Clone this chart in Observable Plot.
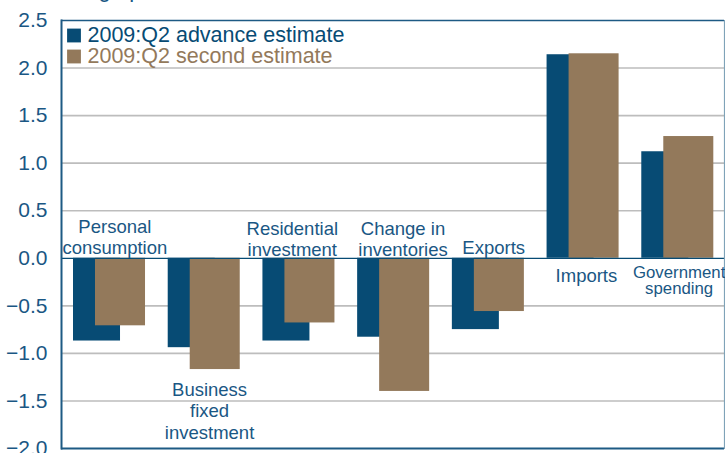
<!DOCTYPE html>
<html>
<head>
<meta charset="utf-8">
<script src="https://cdn.jsdelivr.net/npm/d3@7"></script>
<script src="https://cdn.jsdelivr.net/npm/@observablehq/plot@0.6"></script>
<style>
  html, body { margin: 0; padding: 0; background: #fff; }
  #chart { width: 725px; height: 453px; overflow: hidden; }
</style>
</head>
<body>
<div id="chart"></div>
<script>
// ---- data ----
const categories = ["Personal consumption", "Business fixed investment", "Residential investment",
  "Change in inventories", "Exports", "Imports", "Government spending"];
const labelLines = ["Personal\nconsumption", "Business\nfixed\ninvestment", "Residential\ninvestment",
  "Change in\ninventories", "Exports", "Imports", "Government\nspending"];
const advanceEstimate = [-0.87, -0.94, -0.87, -0.83, -0.75, 2.14, 1.12];
const secondEstimate  = [-0.71, -1.17, -0.68, -1.40, -0.56, 2.15, 1.28];
const labelPlacement = ["above", "belowBar", "above", "above", "above", "below", "below"];
const seriesNames = ["2009:Q2 advance estimate", "2009:Q2 second estimate"];
const yTicks = [-2.0, -1.5, -1.0, -0.5, 0.0, 0.5, 1.0, 1.5, 2.0, 2.5];
const titleText = "Percentage points";

// ---- styles ----
const BLUE = "#074b74";
const BROWN = "#93795b";
const TEXT_BLUE = "#1a5784";
const FONT = "Liberation Sans, Arial, sans-serif";

const advRows = categories.map((c, i) => ({cat: c, v: advanceEstimate[i]}));
const secRows = categories.map((c, i) => ({cat: c, v: secondEstimate[i]}));

const labelRows = categories.map((c, i) => {
  const p = labelPlacement[i];
  const y = p === "belowBar" ? Math.min(advanceEstimate[i], secondEstimate[i]) : 0;
  return {cat: c, text: labelLines[i], y, place: p};
});

const legendRows = seriesNames.map((s, i) => ({name: s, color: i === 0 ? BLUE : BROWN}));

const labelStyle = {fontSize: 18.5, lineHeight: 1.16, fill: TEXT_BLUE};
const isCat = name => d => d.cat === name;

const legendMarks = legendRows.flatMap((d, i) => [
  Plot.dot([d], {frameAnchor: "top-left", dx: 12.5, dy: 15 + i * 21, fill: "color",
    symbol: "square", r: 7.8, stroke: "none"}),
  Plot.text([d], {frameAnchor: "top-left", text: "name", textAnchor: "start",
    lineAnchor: "middle", dx: 26, dy: 15 + i * 21, fontSize: 21.5, fill: "color"})
]);

const chart = Plot.plot({
  width: 725,
  height: 453,
  marginLeft: 61,
  marginRight: 1,
  marginTop: 20,
  marginBottom: 5,
  style: {fontFamily: FONT, background: "#fff", overflow: "hidden"},
  x: {domain: categories, padding: 0, round: false, axis: null},
  y: {domain: [-2, 2.5], label: null},
  marks: [
    Plot.gridY(yTicks.filter(t => t !== 0 && t !== -2 && t !== 2.5), {stroke: "#bdbdbd", strokeOpacity: 1, strokeWidth: 1.6}),
    Plot.axisY({ticks: yTicks, tickFormat: d3.format(".1f"), tickSize: 0, tickPadding: 14,
      fontSize: 21, label: null, fill: TEXT_BLUE}),
    Plot.barY(advRows, {x: "cat", y: "v", fill: BLUE, insetLeft: 12, insetRight: 35.7}),
    Plot.barY(secRows, {x: "cat", y: "v", fill: BROWN, insetLeft: 34, insetRight: 10.7}),
    Plot.ruleY([0], {stroke: BLUE, strokeWidth: 1.2}),
    // frame: top, bottom, left dark; right light
    Plot.ruleY([2.5], {stroke: "#1d5a84", strokeWidth: 1.5}),
    Plot.ruleY([-2], {stroke: "#1d5a84", strokeWidth: 2}),
    Plot.frame({anchor: "left", stroke: "#1d5a84", strokeWidth: 2}),
    Plot.frame({anchor: "right", stroke: "#7fa3b8", strokeWidth: 1.2}),
    // category labels above zero
    Plot.text(labelRows, {filter: d => d.place === "above" && d.cat !== "Residential investment" && d.cat !== "Change in inventories",
      x: "cat", y: "y", text: "text", lineAnchor: "bottom", dx: 6, dy: -4, ...labelStyle}),
    Plot.text(labelRows, {filter: isCat("Residential investment"),
      x: "cat", y: "y", text: "text", lineAnchor: "bottom", dx: -6, dy: -2, ...labelStyle}),
    Plot.text(labelRows, {filter: isCat("Change in inventories"),
      x: "cat", y: "y", text: "text", lineAnchor: "bottom", dx: 10, dy: -2, ...labelStyle}),
    // below zero
    Plot.text(labelRows, {filter: isCat("Imports"),
      x: "cat", y: "y", text: "text", lineAnchor: "top", dx: 4, dy: 8, ...labelStyle}),
    Plot.text(labelRows, {filter: isCat("Government spending"),
      x: "cat", y: "y", text: "text", lineAnchor: "top", dx: 2, dy: 8, fontSize: 16.8, lineHeight: 0.95, fill: TEXT_BLUE}),
    // below its bar
    Plot.text(labelRows, {filter: d => d.place === "belowBar",
      x: "cat", y: "y", text: "text", lineAnchor: "top", dx: 6, dy: 11, ...labelStyle}),
    // legend
    ...legendMarks,
    // partially visible title (only its descenders show, as in the reference)
    Plot.text([titleText], {frameAnchor: "top-left", textAnchor: "start", lineAnchor: "bottom",
      dx: -51, dy: -24, fontSize: 22, fill: TEXT_BLUE})
  ]
});

document.getElementById("chart").appendChild(chart);
</script>
</body>
</html>
